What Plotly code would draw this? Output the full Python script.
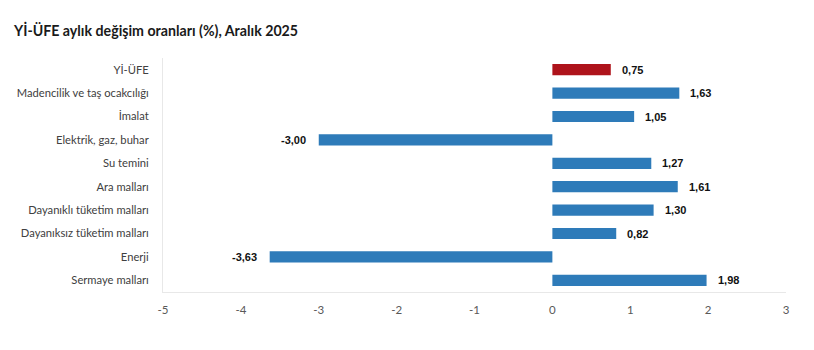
import plotly.graph_objects as go

categories = ["Yİ-ÜFE", "Madencilik ve taş ocakcılığı", "İmalat", "Elektrik, gaz, buhar",
              "Su temini", "Ara malları", "Dayanıklı tüketim malları",
              "Dayanıksız tüketim malları", "Enerji", "Sermaye malları"]
values = [0.75, 1.63, 1.05, -3.00, 1.27, 1.61, 1.30, 0.82, -3.63, 1.98]
labels = ["0,75", "1,63", "1,05", "-3,00", "1,27", "1,61", "1,30", "0,82", "-3,63", "1,98"]
colors = ["#AE131B"] + ["#2E7BB9"] * 9
x_ticks = [-5, -4, -3, -2, -1, 0, 1, 2, 3]

fig = go.Figure(go.Bar(
    x=values, y=categories, orientation="h",
    marker=dict(color=colors, line=dict(width=0)),
    hoverinfo="skip",
))

for v, c, t in zip(values, categories, labels):
    fig.add_annotation(
        x=v, y=c, text="<b>" + t + "</b>", showarrow=False,
        xanchor="left" if v >= 0 else "right",
        xshift=9 if v >= 0 else -11,
        font=dict(family="Arial, Liberation Sans", size=11, color="#111111"),
    )

fig.update_layout(
    width=814, height=350,
    margin=dict(l=163, r=28, t=58, b=58),
    paper_bgcolor="white", plot_bgcolor="white",
    bargap=0.52,
    showlegend=False,
    title=dict(text="<b>Yİ-ÜFE aylık değişim oranları (%), Aralık 2025</b>",
               x=14 / 814, xanchor="left", y=1 - 31 / 350, yanchor="middle",
               font=dict(family="Lato, Open Sans", size=14.2, color="#1a1a1a")),
    xaxis=dict(range=[-5, 3], tickvals=x_ticks, ticktext=[str(v) for v in x_ticks],
               showgrid=False, zeroline=False, showline=True, linecolor="#e8e8e8",
               linewidth=1, ticks="", ticklabelstandoff=7,
               tickfont=dict(family="Lato, Open Sans", size=11.5, color="#595959")),
    yaxis=dict(autorange="reversed", showgrid=False, zeroline=False,
               showline=True, linecolor="#e8e8e8", linewidth=1, ticks="",
               ticklabelstandoff=11,
               tickfont=dict(family="Lato, Open Sans", size=11.2, color="#404040")),
)

fig.write_html("out.html")
